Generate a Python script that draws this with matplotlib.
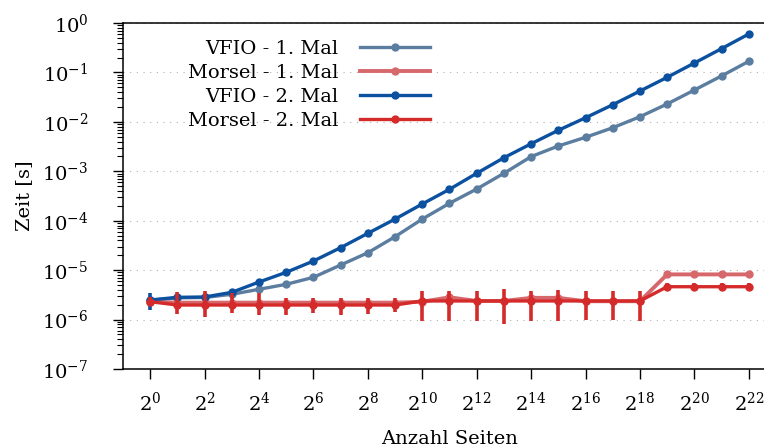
import numpy as np
import matplotlib
matplotlib.use("Agg")
import matplotlib.pyplot as plt

plt.rcParams['font.family'] = ['DejaVu Serif']
plt.rcParams['mathtext.fontset'] = 'dejavuserif'

# Anzahl Seiten = 2^k
exps = np.arange(0, 23)
pages = 2.0 ** exps

# Zeiten in Sekunden
vfio_1 = [2.45e-6, 2.75e-6, 2.8e-6, 3.25e-6, 4.1e-6, 5.17e-6, 7.16e-6, 1.27e-5,
          2.25e-5, 4.75e-5, 1.08e-4, 2.25e-4, 4.38e-4, 9.1e-4, 1.98e-3, 3.25e-3,
          4.87e-3, 7.6e-3, 1.27e-2, 2.3e-2, 4.4e-2, 8.5e-2, 0.168]
morsel_1 = [2.3e-6, 2.2e-6, 2.2e-6, 2.2e-6, 2.2e-6, 2.2e-6, 2.2e-6, 2.2e-6,
            2.2e-6, 2.2e-6, 2.3e-6, 2.82e-6, 2.38e-6, 2.38e-6, 2.75e-6, 2.75e-6,
            2.35e-6, 2.35e-6, 2.35e-6, 8.2e-6, 8.2e-6, 8.2e-6, 8.2e-6]
vfio_2 = [2.49e-6, 2.82e-6, 2.86e-6, 3.56e-6, 5.75e-6, 9.04e-6, 1.53e-5, 2.85e-5,
          5.56e-5, 1.08e-4, 2.18e-4, 4.32e-4, 9.1e-4, 1.88e-3, 3.6e-3, 6.75e-3,
          1.21e-2, 2.22e-2, 4.2e-2, 7.96e-2, 0.155, 0.303, 0.599]
morsel_2 = [2.3e-6, 1.97e-6, 1.97e-6, 1.97e-6, 1.97e-6, 1.97e-6, 1.97e-6, 1.97e-6,
            1.97e-6, 1.97e-6, 2.38e-6, 2.38e-6, 2.38e-6, 2.38e-6, 2.38e-6, 2.38e-6,
            2.38e-6, 2.38e-6, 2.38e-6, 4.62e-6, 4.62e-6, 4.62e-6, 4.62e-6]

# untere / obere Grenzen der Fehlerbalken
vfio_2_lo = [1.55e-6, 2.4e-6, 2.45e-6, 3.1e-6, 5.0e-6, 8.0e-6, 1.35e-5, 2.5e-5,
             4.9e-5, 9.6e-5, 1.95e-4, 3.9e-4, 8.2e-4, 1.7e-3, 3.25e-3, 6.1e-3,
             1.1e-2, 2.0e-2, 3.8e-2, 7.2e-2, 0.14, 0.275, 0.54]
vfio_2_hi = [3.4e-6, 3.3e-6, 3.3e-6, 4.1e-6, 6.6e-6, 1.02e-5, 1.72e-5, 3.2e-5,
             6.3e-5, 1.22e-4, 2.43e-4, 4.8e-4, 1.0e-3, 2.08e-3, 4.0e-3, 7.5e-3,
             1.34e-2, 2.45e-2, 4.65e-2, 8.8e-2, 0.171, 0.335, 0.66]
morsel_2_lo = [1.9e-6, 1.3e-6, 1.14e-6, 1.38e-6, 1.24e-6, 1.24e-6, 1.34e-6, 1.24e-6,
               1.28e-6, 1.44e-6, 0.95e-6, 0.95e-6, 0.95e-6, 0.81e-6, 0.95e-6, 0.92e-6,
               0.98e-6, 0.98e-6, 0.95e-6, 4.0e-6, 4.0e-6, 4.0e-6, 4.0e-6]
morsel_2_hi = [2.8e-6, 3.66e-6, 3.84e-6, 3.4e-6, 3.4e-6, 2.69e-6, 2.69e-6, 2.69e-6,
               2.69e-6, 2.69e-6, 3.84e-6, 3.84e-6, 3.84e-6, 4.1e-6, 3.84e-6, 3.95e-6,
               3.84e-6, 3.84e-6, 3.84e-6, 5.4e-6, 5.4e-6, 5.4e-6, 5.4e-6]

c_vfio_1 = '#5b7da0'
c_morsel_1 = '#d6686c'
c_vfio_2 = '#0b51a0'
c_morsel_2 = '#d42a2a'

fig = plt.figure(figsize=(7.64, 4.48), dpi=100)
ax = fig.add_axes([123 / 764, 79 / 448, 653 / 764, 346 / 448])

def err(c, lo, hi):
    c = np.array(c)
    return [c - np.array(lo), np.array(hi) - c]

ax.plot(pages, vfio_1, color=c_vfio_1, lw=2.4, marker='o', ms=5, label='VFIO - 1. Mal', zorder=3)
ax.plot(pages, morsel_1, color=c_morsel_1, lw=2.8, marker='o', ms=5, label='Morsel - 1. Mal', zorder=3)
ax.errorbar(pages, vfio_2, yerr=err(vfio_2, vfio_2_lo, vfio_2_hi), fmt='none', ecolor=c_vfio_2,
            elinewidth=2.6, capsize=0, zorder=4)
ax.plot(pages, vfio_2, color=c_vfio_2, lw=2.4, marker='o', ms=5, label='VFIO - 2. Mal', zorder=4)
ax.errorbar(pages, morsel_2, yerr=err(morsel_2, morsel_2_lo, morsel_2_hi), fmt='none', ecolor=c_morsel_2,
            elinewidth=2.6, capsize=0, zorder=5)
ax.plot(pages, morsel_2, color=c_morsel_2, lw=2.4, marker='o', ms=5, label='Morsel - 2. Mal', zorder=5)

ax.set_xscale('log', base=2)
ax.set_yscale('log')
ax.set_xlim(2 ** -1, 2 ** 23)
ax.set_ylim(1e-7, 1e0)
ax.set_xticks(2.0 ** np.arange(0, 23, 2))
ax.set_xticklabels([r'$2^{%d}$' % k for k in range(0, 23, 2)])
ax.xaxis.set_minor_locator(matplotlib.ticker.NullLocator())
ax.set_yticks([10.0 ** k for k in range(-7, 1)])
ax.set_yticklabels([r'$10^{%d}$' % k for k in range(-7, 1)])

ax.tick_params(axis='both', which='major', direction='out', length=7, width=1.0, labelsize=14)
ax.tick_params(axis='x', which='major', pad=9)
ax.tick_params(axis='y', which='major', pad=18)
ax.tick_params(axis='y', which='minor', direction='out', length=4, width=0.8)

ax.grid(True, axis='y', which='major', color='#b0b0b0', lw=0.8, linestyle=(0, (1, 5)))
ax.set_axisbelow(True)
for s in ax.spines.values():
    s.set_linewidth(1.1)

ax.set_xlabel('Anzahl Seiten', fontsize=14, labelpad=11)
ax.set_ylabel('Zeit [s]', fontsize=14, labelpad=6)

ax.legend(loc='upper right', bbox_to_anchor=(430 / 764, 1 - 40 / 448), bbox_transform=fig.transFigure,
          frameon=False, markerfirst=False, fontsize=14, handlelength=3.6, handletextpad=1.1,
          labelspacing=0.3, borderpad=0, borderaxespad=0)

fig.savefig('out.png', dpi=100)
